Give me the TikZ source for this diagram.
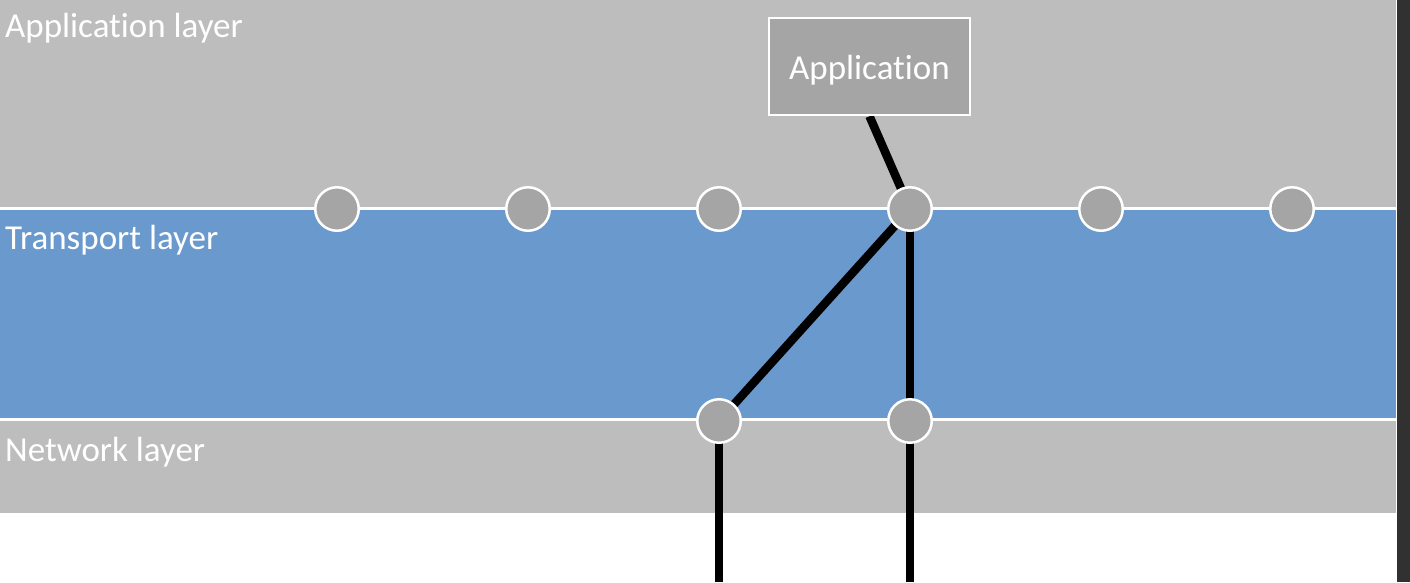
\documentclass[tikz,border=0pt]{standalone}
\usepackage{fontspec}
\setmainfont{Carlito}[Ligatures=NoCommon]
\pgfdeclarelayer{wires}
\pgfsetlayers{wires,main}
\definecolor{bandgray}{RGB}{189,189,189}
\definecolor{bandblue}{RGB}{106,153,206}
\definecolor{nodegray}{RGB}{165,165,165}
\definecolor{darkstrip}{RGB}{49,49,49}
\tikzset{
  port/.style={circle,draw=white,line width=2.5pt,fill=nodegray,minimum size=43.5pt,inner sep=0pt},
  appbox/.style={rectangle,draw=white,line width=2.5pt,fill=nodegray,minimum width=201pt,minimum height=97pt,inner sep=0pt,text=white,text height=25pt,text depth=0pt},
  layerlabel/.style={anchor=base west,inner sep=0pt,text=white},
  wire/.style={line width=8.5pt,black},
  sep/.style={white,line width=3pt}
}
\begin{document}
\begin{tikzpicture}[x=1pt,y=-1pt,font=\fontsize{35}{40}\selectfont]
\useasboundingbox (0,0) rectangle (1410,582);
\begin{pgfonlayer}{wires}
  \fill[white] (0,0) rectangle (1410,582);
  \fill[bandgray] (0,0) rectangle (1395.5,208.5);
  \fill[bandblue] (0,208.5) rectangle (1395.5,419.5);
  \fill[bandgray] (0,419.5) rectangle (1395.5,513);
  \draw[sep] (0,208.5) -- (1395.5,208.5);
  \draw[sep] (0,419.5) -- (1395.5,419.5);
\end{pgfonlayer}
\fill[darkstrip] (1397,0) rectangle (1410,582);
\node[layerlabel] (lapp) at (5,37) {Application layer};
\node[layerlabel] (ltra) at (5,249) {Transport layer};
\node[layerlabel] (lnet) at (5,461) {Network layer};
\node[appbox] (app) at (869.5,66.5) {Application};
\node[port] (t1) at (337,209) {};
\node[port] (t2) at (528,209) {};
\node[port] (t3) at (719,209) {};
\node[port] (t4) at (910,209) {};
\node[port] (t5) at (1101,209) {};
\node[port] (t6) at (1292,209) {};
\node[port] (n1) at (719,421) {};
\node[port] (n2) at (910,421) {};
\coordinate (e1) at (719,582);
\coordinate (e2) at (910,582);
\begin{pgfonlayer}{wires}
  \draw[wire] (app.south) -- (t4.center);
  \draw[wire] (t4.center) -- (n1.center);
  \draw[wire] (t4.center) -- (n2.center);
  \draw[wire] (n1.center) -- (e1);
  \draw[wire] (n2.center) -- (e2);
\end{pgfonlayer}
\end{tikzpicture}
\end{document}
